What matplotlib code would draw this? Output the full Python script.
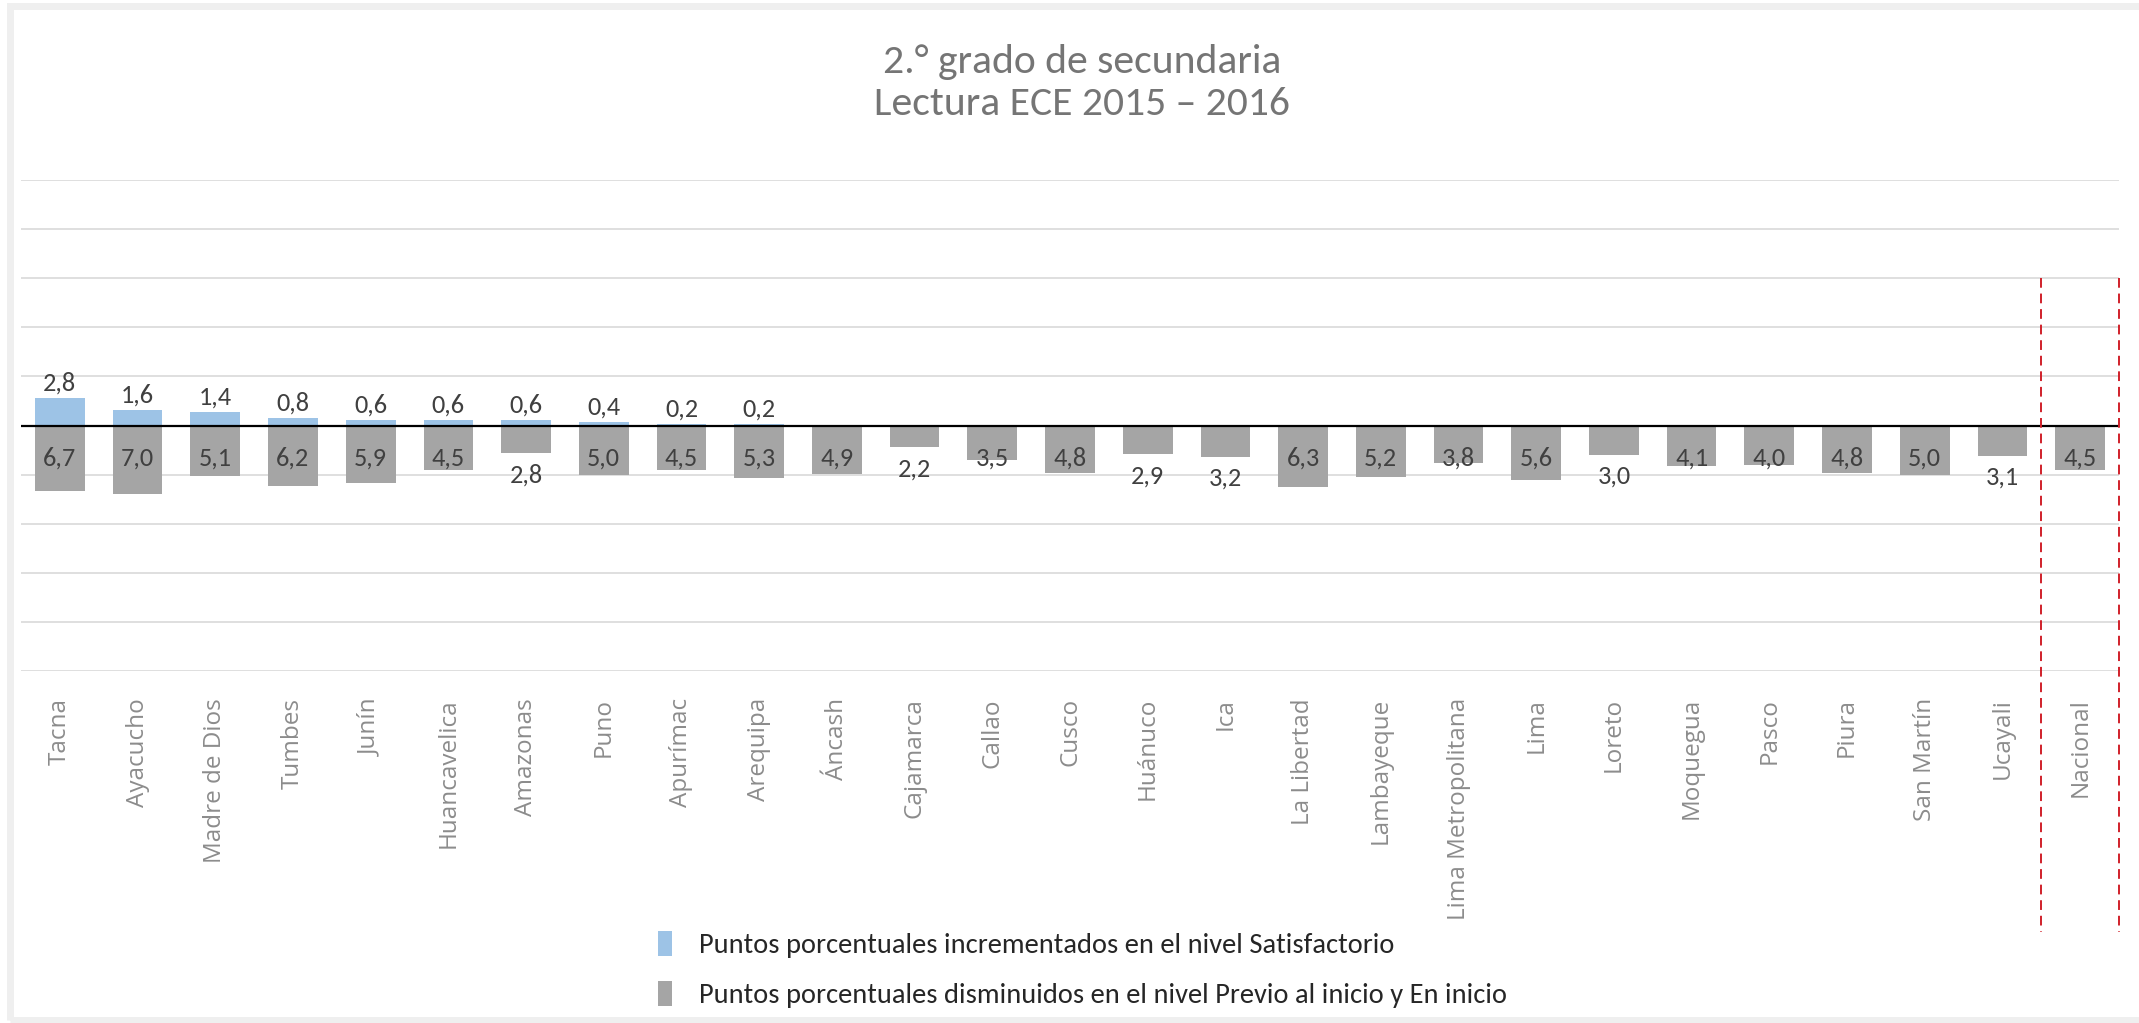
### ECE 2015-2016 lectura, 2do secundaria ####
import matplotlib
matplotlib.use("Agg")
import matplotlib.pyplot as plt
from matplotlib.patches import Rectangle

### data ####
regiones = ["Tacna", "Ayacucho", "Madre de Dios", "Tumbes", "Junín", "Huancavelica",
            "Amazonas", "Puno", "Apurímac", "Arequipa", "Áncash", "Cajamarca", "Callao",
            "Cusco", "Huánuco", "Ica", "La Libertad", "Lambayeque", "Lima Metropolitana",
            "Lima", "Loreto", "Moquegua", "Pasco", "Piura", "San Martín", "Ucayali",
            "Nacional"]
# puntos incrementados en Satisfactorio (None = sin barra)
satisf = [2.8, 1.6, 1.4, 0.8, 0.6, 0.6, 0.6, 0.4, 0.2, 0.2,
          None, None, None, None, None, None, None, None, None,
          None, None, None, None, None, None, None, None]
# puntos disminuidos en Previo al inicio y En inicio
disminuidos = [6.7, 7.0, 5.1, 6.2, 5.9, 4.5, 2.8, 5.0, 4.5, 5.3, 4.9, 2.2, 3.5,
               4.8, 2.9, 3.2, 6.3, 5.2, 3.8, 5.6, 3.0, 4.1, 4.0, 4.8, 5.0, 3.1, 4.5]

titulo = "2.° grado de secundaria\nLectura ECE 2015 – 2016"
ley_1 = "Puntos porcentuales incrementados en el nivel Satisfactorio"
ley_2 = "Puntos porcentuales disminuidos en el nivel Previo al inicio y En inicio"

narrow = ["Carlito", "Liberation Sans Narrow", "DejaVu Sans"]
wide = ["Open Sans", "DejaVu Sans"]

c_blue = "#9DC3E6"
c_gray = "#A5A5A5"


def fmt(v):
    return f"{v:.1f}".replace(".", ",")


fig = plt.figure(figsize=(21.39, 10.23), dpi=100)
fig.patch.set_facecolor("white")
ax = fig.add_axes([21 / 2139, 1 - 671 / 1023, (2119 - 21) / 2139, (671 - 180) / 1023])

x = list(range(len(regiones)))
sx = [i for i, v in zip(x, satisf) if v is not None]
sv = [v for v in satisf if v is not None]

ax.bar(sx, sv, width=0.64, color=c_blue, zorder=2, label=ley_1)
ax.bar(x, [-v for v in disminuidos], width=0.64, color=c_gray, zorder=2, label=ley_2)

### data labels ####
for i, v in zip(sx, sv):
    ax.text(i, v + 0.3, fmt(v), ha="center", va="bottom", fontsize=19,
            color="#404040", family=narrow, zorder=4)
for i, v in zip(x, disminuidos):
    yy = -3.3 if v >= 3.5 else -(v + 2.2)
    ax.text(i, yy, fmt(v), ha="center", va="center", fontsize=19,
            color="#404040", family=narrow, zorder=4)

### axes ####
ax.set_xlim(-0.5, len(regiones) - 0.5)
ax.set_ylim(-25, 25)
ax.set_yticks(range(-25, 26, 5))
ax.yaxis.grid(True, color="#D9D9D9", lw=1.2, zorder=0)
ax.axhline(0, color="black", lw=1.6, zorder=3)
ax.tick_params(axis="y", left=False, labelleft=False)
ax.tick_params(axis="x", bottom=False, pad=16)
ax.set_xticks(x)
ax.set_xticklabels(regiones, rotation=90, fontsize=17.5, color="#8C8C8C", family=wide)
for s in ax.spines.values():
    s.set_visible(False)

### red dashed separators for Nacional ####
for xv in [len(regiones) - 1.5, len(regiones) - 0.5]:
    ax.plot([xv, xv], [15, -51.6], color="#D0202A", lw=1.4, ls=(0, (5, 3)),
            clip_on=False, zorder=5)

### title ####
fig.text(1082 / 2139, 1 - 83 / 1023, titulo, ha="center", va="center", fontsize=30,
         color="#757575", family=narrow, linespacing=1.2)

### legend ####
leg = fig.legend(loc="upper left", bbox_to_anchor=(632 / 2139, 1 - 905 / 1023),
                 frameon=False, handlelength=0.5, handleheight=1.0,
                 handletextpad=0.95, labelspacing=0.8, prop={"family": narrow, "size": 20.5})
for t in leg.get_texts():
    t.set_color("#262626")

### outer frame ####
fig.patches.append(Rectangle((10 / 2139, 3 / 1023), 1.2, 1 - 9 / 1023, transform=fig.transFigure,
                             fill=False, edgecolor="#EFEFEF", lw=5))

fig.savefig("out.png", dpi=100)
